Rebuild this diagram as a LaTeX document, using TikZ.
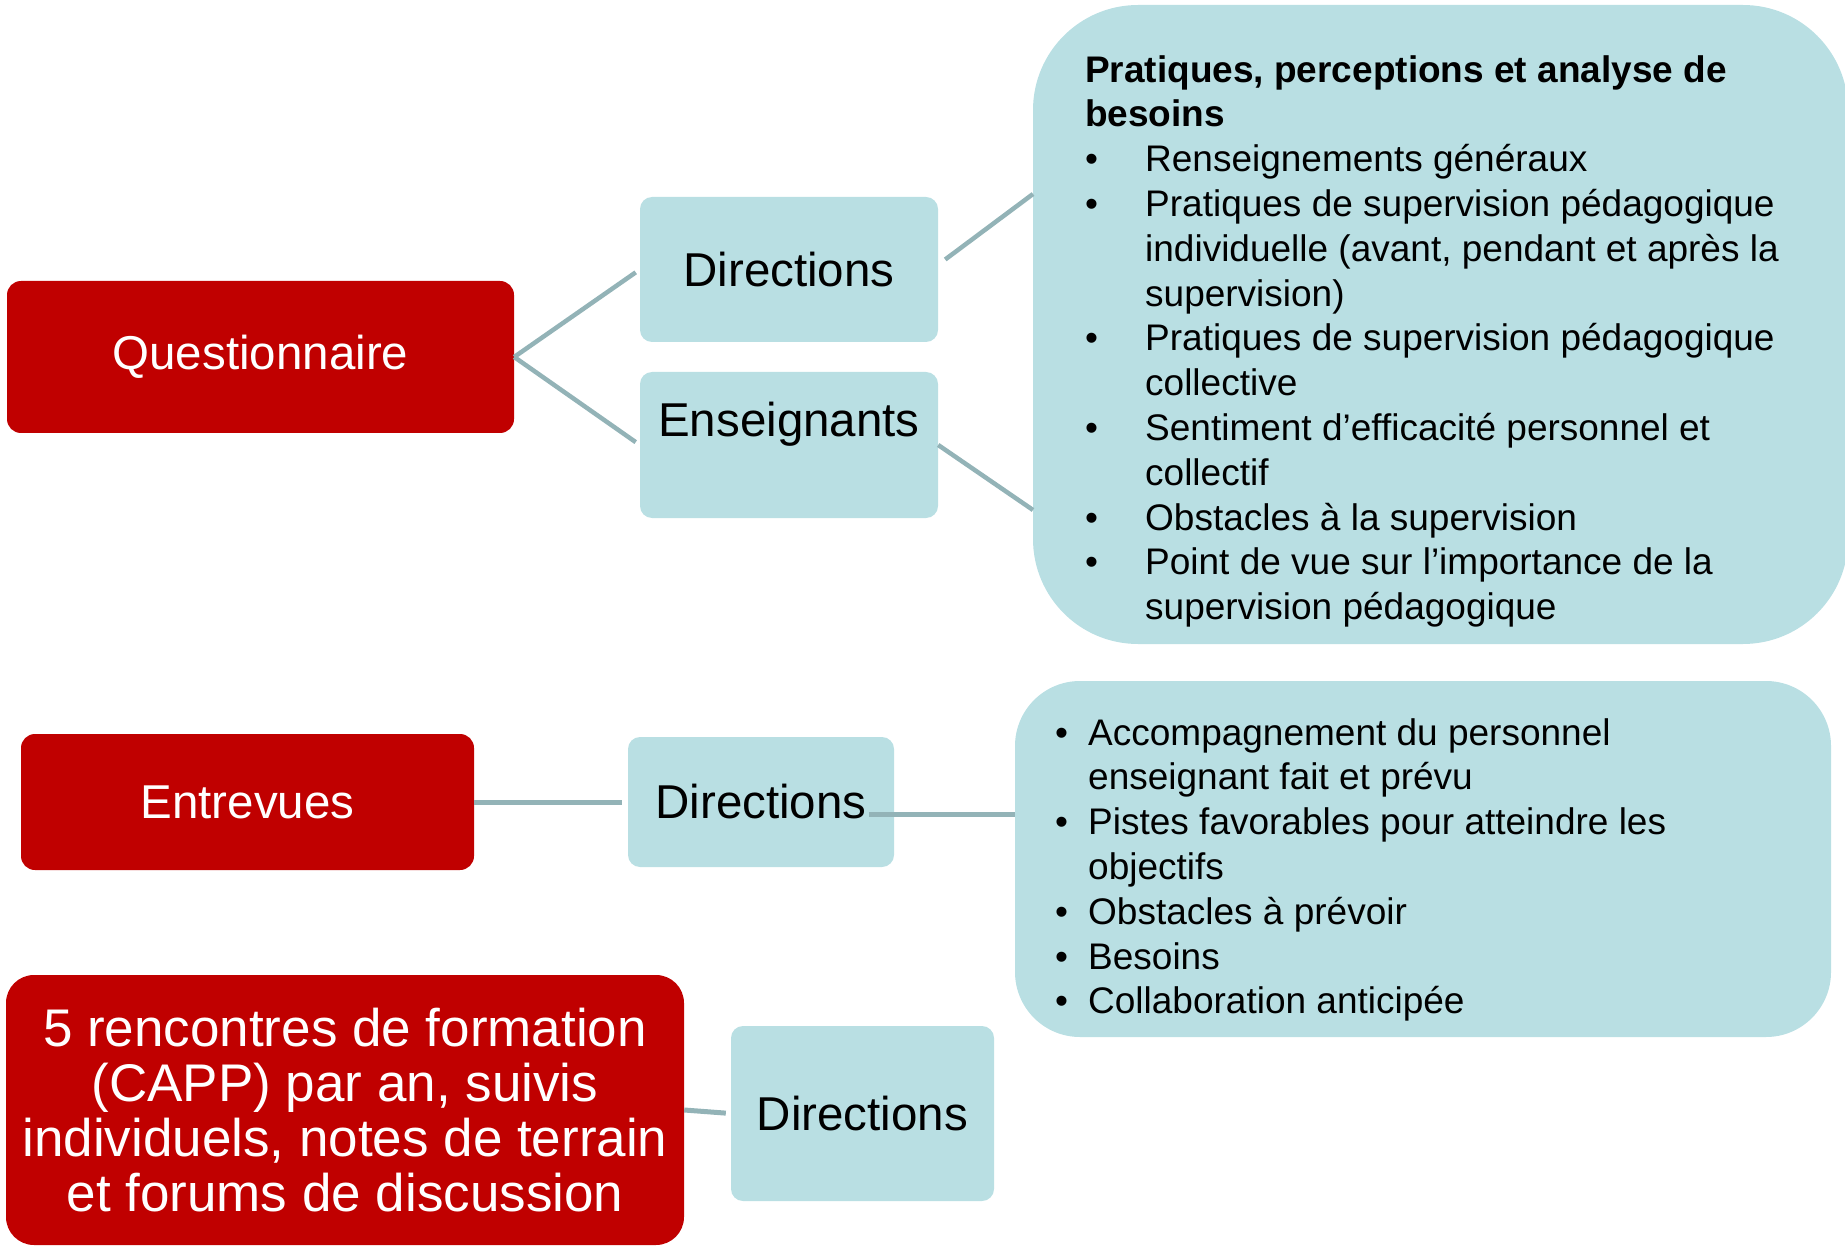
\documentclass[tikz,border=0pt]{standalone}
\usepackage{fontspec}
\setmainfont{Liberation Sans}

\definecolor{caprouge}{HTML}{C00000}
\definecolor{capbleu}{HTML}{B9DFE3}
\definecolor{caplien}{HTML}{93B3B7}

\tikzset{
  rouge/.style={rectangle, rounded corners=14pt, fill=caprouge, text=white, inner sep=0pt, font=\fontsize{47.5}{57}\selectfont},
  bleu/.style={rectangle, rounded corners=12pt, fill=capbleu, inner sep=0pt, font=\fontsize{47.5}{57}\selectfont},
  liste/.style={anchor=north west, inner sep=0pt, font=\fontsize{37}{44.8}\selectfont},
  lien/.style={draw=caplien, line width=4.5pt},
}

\begin{document}
\begin{tikzpicture}[x=1pt, y=-1pt]
\useasboundingbox (0,0) rectangle (1845,1246);

% Questionnaire branch
\node[rouge, minimum width=507pt, minimum height=152pt] (quest) at (260.5,357) {Questionnaire};
\node[bleu, minimum width=298pt, minimum height=145pt] (dirq) at (789,269.5) {Directions};
\node[bleu, minimum width=298pt, minimum height=146pt, text height=34pt, text depth=52pt] (ens) at (789,445) {Enseignants};

% Big list box
\node[fill=capbleu, rounded corners=105pt, minimum width=815pt, minimum height=639pt] (questbox) at (1440.5,324.5) {};
\node[liste] (questlist) at (1085,50.6) {%
\begin{tabular}{@{}p{60pt}@{}l@{}}
\multicolumn{2}{@{}l@{}}{\bfseries Pratiques, perceptions et analyse de}\\
\multicolumn{2}{@{}l@{}}{\bfseries besoins}\\
\textbullet & Renseignements généraux\\
\textbullet & Pratiques de supervision pédagogique\\
 & individuelle (avant, pendant et après la\\
 & supervision)\\
\textbullet & Pratiques de supervision pédagogique\\
 & collective\\
\textbullet & Sentiment d’efficacité personnel et\\
 & collectif\\
\textbullet & Obstacles à la supervision\\
\textbullet & Point de vue sur l’importance de la\\
 & supervision pédagogique
\end{tabular}};

% Entrevues branch
\node[rouge, minimum width=453pt, minimum height=136pt] (entrev) at (247.5,802) {Entrevues};
\node[bleu, minimum width=266pt, minimum height=130pt] (dire) at (761,802) {Directions};
\node[fill=capbleu, rounded corners=65pt, minimum width=816pt, minimum height=356pt] (entrevbox) at (1423,859) {};
\node[liste] (entrevlist) at (1055,713.6) {%
\begin{tabular}{@{}p{33pt}@{}l@{}}
\textbullet & Accompagnement du personnel\\
 & enseignant fait et prévu\\
\textbullet & Pistes favorables pour atteindre les\\
 & objectifs\\
\textbullet & Obstacles à prévoir\\
\textbullet & Besoins\\
\textbullet & Collaboration anticipée
\end{tabular}};

% Formation branch
\node[rouge, rounded corners=28pt, minimum width=678pt, minimum height=270pt, align=center, font=\fontsize{53}{55}\selectfont] (renc) at (345,1110) {5 rencontres de formation\\(CAPP) par an, suivis\\individuels, notes de terrain\\et forums de discussion};
\node[bleu, minimum width=263pt, minimum height=175pt] (dirf) at (862.5,1113.5) {Directions};

% Connector ends
\coordinate (qin1) at (1033,194);
\coordinate (qin2) at (1033,510);
\coordinate (eout) at (869,814);
\coordinate (ein) at (1015,814);

% Connectors
\draw[lien, shorten >=5pt] (quest.east) -- (dirq.west);
\draw[lien, shorten >=5pt] (quest.east) -- (ens.west);
\draw[lien] ([shift={(7,-10)}]dirq.east) -- (qin1);
\draw[lien] (ens.east) -- (qin2);
\draw[lien, line width=5pt, shorten >=6pt] (entrev.east) -- (dire.west);
\draw[lien, line width=5pt] (eout) -- (ein);
\draw[lien, line width=5pt, shorten >=5pt] (renc.east) -- (dirf.west);
\end{tikzpicture}
\end{document}
